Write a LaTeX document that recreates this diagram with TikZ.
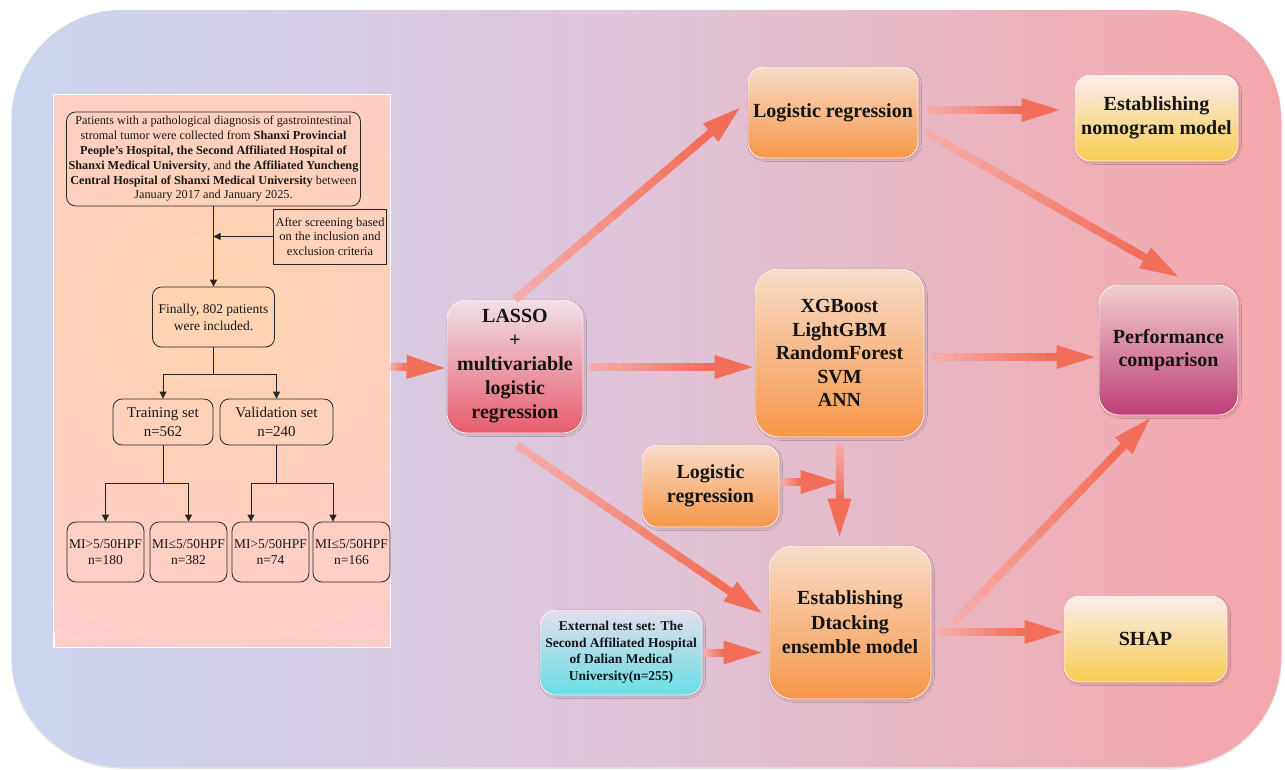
\documentclass[tikz,border=0pt]{standalone}
\usepackage{fontspec}
\setmainfont{Liberation Serif}
\usetikzlibrary{arrows.meta,calc,shadows.blur}
\definecolor{arc}{RGB}{243,110,88}
\definecolor{arclight}{RGB}{246,182,184}
\definecolor{bgL}{RGB}{203,213,240}
\definecolor{bgM}{RGB}{224,196,216}
\definecolor{bgR}{RGB}{244,166,170}
\definecolor{pnl}{RGB}{255,205,202}
\definecolor{pnlglow}{RGB}{255,212,176}
\definecolor{orT}{RGB}{248,220,200}
\definecolor{orB}{RGB}{247,150,72}
\definecolor{yeT}{RGB}{250,236,236}
\definecolor{yeB}{RGB}{249,204,82}
\definecolor{laT}{RGB}{240,224,234}
\definecolor{laB}{RGB}{232,92,108}
\definecolor{peT}{RGB}{242,206,208}
\definecolor{peB}{RGB}{190,62,118}
\definecolor{exT}{RGB}{228,222,236}
\definecolor{exB}{RGB}{104,222,230}
\tikzset{
  fb/.style={draw=black!85, line width=0.8pt, rounded corners=9pt, align=center, inner sep=2pt, text=black!90},
  fa/.style={-{Triangle[length=7pt,width=7pt]}, draw=black!85, line width=0.9pt},
  bx/.style={rounded corners=16pt, draw=white!75!pink, line width=0.8pt, align=center, inner sep=2pt,
    font=\fontsize{20}{23.5}\selectfont\bfseries, text=black!92,
    blur shadow={shadow blur steps=6, shadow xshift=1.5pt, shadow yshift=-1.5pt, shadow opacity=18}},
  orbx/.style={bx, top color=orT, bottom color=orB},
  yebx/.style={bx, top color=yeT, bottom color=yeB},
}
\newcommand\farrow[2]{%
  \coordinate (faE) at ($(#2)!38pt!(#1)$);
  \foreach \k in {0,...,11}{%
    \pgfmathsetmacro\ta{\k/12}%
    \pgfmathsetmacro\tb{min(1,(\k+1.3)/12)}%
    \pgfmathtruncatemacro\cc{15+85*\k/11}%
    \draw[line width=8pt, color=arc!\cc!arclight] ($(#1)!\ta!(faE)$) -- ($(#1)!\tb!(faE)$);
  }%
  \fill[arc] (#2) -- ($(faE)!12pt!90:(#2)$) -- ($(faE)!12pt!-90:(#2)$) -- cycle;
}
\begin{document}
\begin{tikzpicture}[x=1pt,y=-1pt]
\useasboundingbox (0,0) rectangle (1285,769);
% background
\path[rounded corners=110pt, left color=bgL, right color=bgR, middle color=bgM,
  blur shadow={shadow blur steps=8, shadow xshift=0pt, shadow yshift=-1pt, shadow opacity=20}]
  (12,10) rectangle (1281,767);
% left panel
\node[fill=pnl, draw=white, line width=1pt, minimum width=336pt, minimum height=552pt, inner sep=0pt] (panel) at (222,371) {};
\begin{scope}
  \clip (panel.south west) rectangle (panel.north east);
  \shade[inner color=pnlglow, outer color=pnl] (215,310) circle (360);
\end{scope}
\draw[white, line width=1pt] (panel.south west) rectangle (panel.north east);

% flowchart
\node[fb, minimum width=293pt, minimum height=94pt, font=\fontsize{12.25}{14.8}\selectfont] (src) at (213.5,159)
 {Patients with a pathological diagnosis of gastrointestinal\\
  stromal tumor were collected from \textbf{Shanxi Provincial}\\
  \textbf{People's Hospital, the Second Affiliated Hospital of}\\
  \textbf{Shanxi Medical University}, and \textbf{the Affiliated Yuncheng}\\
  \textbf{Central Hospital of Shanxi Medical University} between\\
  January 2017 and January 2025.};
\node[fb, rounded corners=0pt, minimum width=112pt, minimum height=55pt, font=\fontsize{12.5}{14.5}\selectfont] (scr) at (330,236.5)
 {After screening based\\on the inclusion and\\exclusion criteria};
\node[fb, minimum width=122pt, minimum height=60pt, font=\fontsize{13.5}{17}\selectfont] (fin) at (213.5,317)
 {Finally, 802 patients\\were included.};
\node[fb, minimum width=100pt, minimum height=46pt, font=\fontsize{15}{18.5}\selectfont] (train) at (163,422) {Training set\\n=562};
\node[fb, minimum width=113pt, minimum height=46pt, font=\fontsize{15}{18.5}\selectfont] (valid) at (276.5,422) {Validation set\\n=240};
\node[fb, minimum width=77pt, minimum height=60pt, font=\fontsize{13.5}{16.5}\selectfont] (mi1) at (105.5,552) {MI>5/50HPF\\n=180};
\node[fb, minimum width=77pt, minimum height=60pt, font=\fontsize{13.5}{16.5}\selectfont] (mi2) at (188.5,552) {MI≤5/50HPF\\n=382};
\node[fb, minimum width=77pt, minimum height=60pt, font=\fontsize{13.5}{16.5}\selectfont] (mi3) at (270.5,552) {MI>5/50HPF\\n=74};
\node[fb, minimum width=77pt, minimum height=60pt, font=\fontsize{13.5}{16.5}\selectfont] (mi4) at (351.5,552) {MI≤5/50HPF\\n=166};
\draw[fa] (src.south) -- (fin.north);
\draw[fa] (scr.west) -- (scr.west -| src.south);
\draw[fa] (fin.south) -- ++(0,27) -| (train.north);
\draw[fa] (fin.south) -- ++(0,27) -| (valid.north);
\draw[fa] (train.south) -- ++(0,38) -| (mi1.north);
\draw[fa] (train.south) -- ++(0,38) -| (mi2.north);
\draw[fa] (valid.south) -- ++(0,38) -| ([xshift=-19.5pt]mi3.north);
\draw[fa] (valid.south) -- ++(0,38) -| ([xshift=-18.5pt]mi4.north);

% right-hand nodes
\node[bx, rounded corners=20pt, top color=laT, bottom color=laB, minimum width=136pt, minimum height=133pt,
  font=\fontsize{20}{24}\selectfont\bfseries] (lasso) at (515,366.5)
  {LASSO\\+\\multivariable\\logistic\\regression};
\node[orbx, minimum width=170pt, minimum height=91pt] (lr1) at (833,112.5) {Logistic regression};
\node[yebx, minimum width=163pt, minimum height=86pt] (nomo) at (1156.5,118) {Establishing\\nomogram model};
\node[orbx, rounded corners=24pt, minimum width=169pt, minimum height=168pt] (xgb) at (839.5,353)
  {XGBoost\\LightGBM\\RandomForest\\SVM\\ANN};
\node[bx, rounded corners=20pt, top color=peT, bottom color=peB, minimum width=139pt, minimum height=130pt] (perf) at (1168.5,350)
  {Performance\\comparison};
\node[orbx, minimum width=137pt, minimum height=82pt] (lr2) at (710.5,486) {Logistic\\regression};
\node[orbx, rounded corners=24pt, minimum width=162pt, minimum height=153pt, font=\fontsize{20}{24.5}\selectfont\bfseries] (dtack) at (850,622.5)
  {Establishing\\Dtacking\\ensemble model};
\node[bx, top color=exT, bottom color=exB, minimum width=162pt, minimum height=85pt,
  font=\fontsize{13.5}{16.5}\selectfont\bfseries] (ext) at (621,652.5)
  {External test set: The\\Second Affiliated Hospital\\of Dalian Medical\\University(n=255)};
\node[yebx, minimum width=163pt, minimum height=86pt] (shap) at (1145.5,639) {SHAP};

% arrow end points
\coordinate (p0) at (panel.east |- lasso.west);
\coordinate (l0) at ($(lasso.west)+(-2,1.5)$);
\coordinate (l1) at ($(lr1.west)+(-8,-4.5)$);
\coordinate (a2) at ($(lasso.east)+(6,0.5)$);
\coordinate (x2) at ($(lasso.east -| xgb.west)+(-2,0.5)$);
\coordinate (a3) at ($(lasso.south)+(2,12)$);
\coordinate (d3) at ($(dtack.west)+(-7,-9.5)$);
\coordinate (r4) at ($(lr1.east)+(9,-2.5)$);
\coordinate (n4) at ($(lr1.east -| nomo.west)+(-15,-2.5)$);
\coordinate (r5) at ($(lr1.east)+(7,19.5)$);
\coordinate (q5) at ($(perf.north)+(9.5,-8)$);
\coordinate (x6) at ($(xgb.east)+(8,4)$);
\coordinate (q6) at ($(xgb.east -| perf.west)+(-4,4)$);
\coordinate (g7) at ($(lr2.east)+(1,-4)$);
\coordinate (j7) at ($(lr2.east -| xgb.south)+(-1,-4)$);
\coordinate (x8) at ($(xgb.south)+(0,6)$);
\coordinate (d8) at ($(xgb.south |- dtack.north)+(0,-9)$);
\coordinate (e9) at ($(ext.east)+(1,0)$);
\coordinate (d9) at ($(ext.east -| dtack.west)+(-7,0)$);
\coordinate (s10) at ($(dtack.east)+(21,1.5)$);
\coordinate (q10) at ($(perf.south)+(-18.5,3)$);
\coordinate (s11) at ($(dtack.east)+(7,9.5)$);
\coordinate (h11) at ($(dtack.east -| shap.west)+(-1,9.5)$);

\farrow{p0}{l0}
\farrow{lasso.north}{l1}
\farrow{a2}{x2}
\farrow{a3}{d3}
\farrow{r4}{n4}
\farrow{r5}{q5}
\farrow{x6}{q6}
\farrow{g7}{j7}
\farrow{x8}{d8}
\farrow{e9}{d9}
\farrow{s10}{q10}
\farrow{s11}{h11}
\end{tikzpicture}
\end{document}
